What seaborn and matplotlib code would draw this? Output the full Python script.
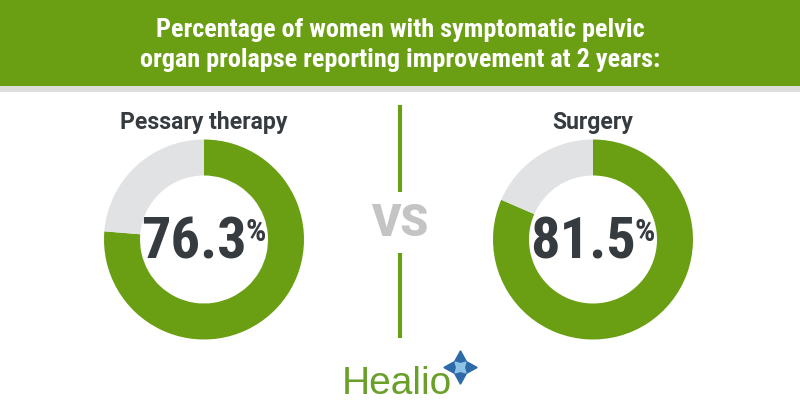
import matplotlib
matplotlib.use("Agg")
import matplotlib.pyplot as plt
import seaborn as sns

# data
groups = ["Pessary therapy", "Surgery"]
improved = [76.3, 81.5]
title = "Percentage of women with symptomatic pelvic\norgan prolapse reporting improvement at 2 years:"

GREEN = "#6a9f14"
LIGHT = "#e1e2e4"
DARK = "#363b40"

sns.set_theme(style="white")
plt.rcParams["font.family"] = ["Roboto", "DejaVu Sans"]
COND = ["Roboto Condensed", "Liberation Sans Narrow", "Roboto", "DejaVu Sans"]

fig = plt.figure(figsize=(8, 4.2), dpi=100)
fig.patch.set_facecolor("white")

# background axes in pixel units
bg = fig.add_axes([0, 0, 1, 1])
bg.set_xlim(0, 800)
bg.set_ylim(420, 0)
bg.axis("off")

bg.add_patch(plt.Rectangle((0, 0), 800, 86, color=GREEN, lw=0))
bg.add_patch(plt.Rectangle((0, 86), 800, 6, color="#dcdcdc", lw=0))
bg.text(400, 45, title, ha="center", va="center", color="white",
        fontsize=18.9, fontweight="bold", family=COND, linespacing=1.35)

# divider + VS
bg.plot([400, 400], [105, 192], color=GREEN, lw=3, solid_capstyle="butt")
bg.plot([400, 400], [253, 338], color=GREEN, lw=3, solid_capstyle="butt")
bg.text(400, 224, "VS", ha="center", va="center", color="#c4c4c4",
        fontsize=32, fontweight="black")

centers = [204, 593]
cy = 239.5
r = 100
for name, val, cx in zip(groups, improved, centers):
    ax = fig.add_axes([(cx - r) / 800, (420 - cy - r) / 420, 2 * r / 800, 2 * r / 420])
    ax.pie([val, 100 - val], colors=[GREEN, LIGHT], startangle=90,
           counterclock=False, radius=1,
           wedgeprops=dict(width=0.36, linewidth=0))
    ax.set_xlim(-1, 1)
    ax.set_ylim(-1, 1)
    ax.set_aspect("equal")
    ax.axis("off")

    bg.text(cx, 122, name, ha="center", va="center", color=DARK,
            fontsize=16.6, fontweight="bold")
    num = bg.text(cx - 10, 243, f"{val:.1f}", ha="center", va="center",
                  color=DARK, fontsize=42, fontweight="bold", family=COND)
    bg.annotate("%", xy=(1, 1), xycoords=num, xytext=(-1, -1),
                textcoords="offset points", ha="left", va="top",
                color=DARK, fontsize=23, fontweight="bold", family=COND)

# logo
bg.text(342, 384, "Healio", ha="left", va="center", color="#6aa02a",
        fontsize=28, family=["Liberation Sans", "DejaVu Sans"])
bg.plot([460], [367], marker=(4, 1, 0), markersize=24, color="#2c6aa8", ls="none")
bg.plot([460], [367], marker=(4, 1, 45), markersize=11, color="#8fc3e6", ls="none")

fig.savefig("out.png", dpi=100, facecolor="white")
